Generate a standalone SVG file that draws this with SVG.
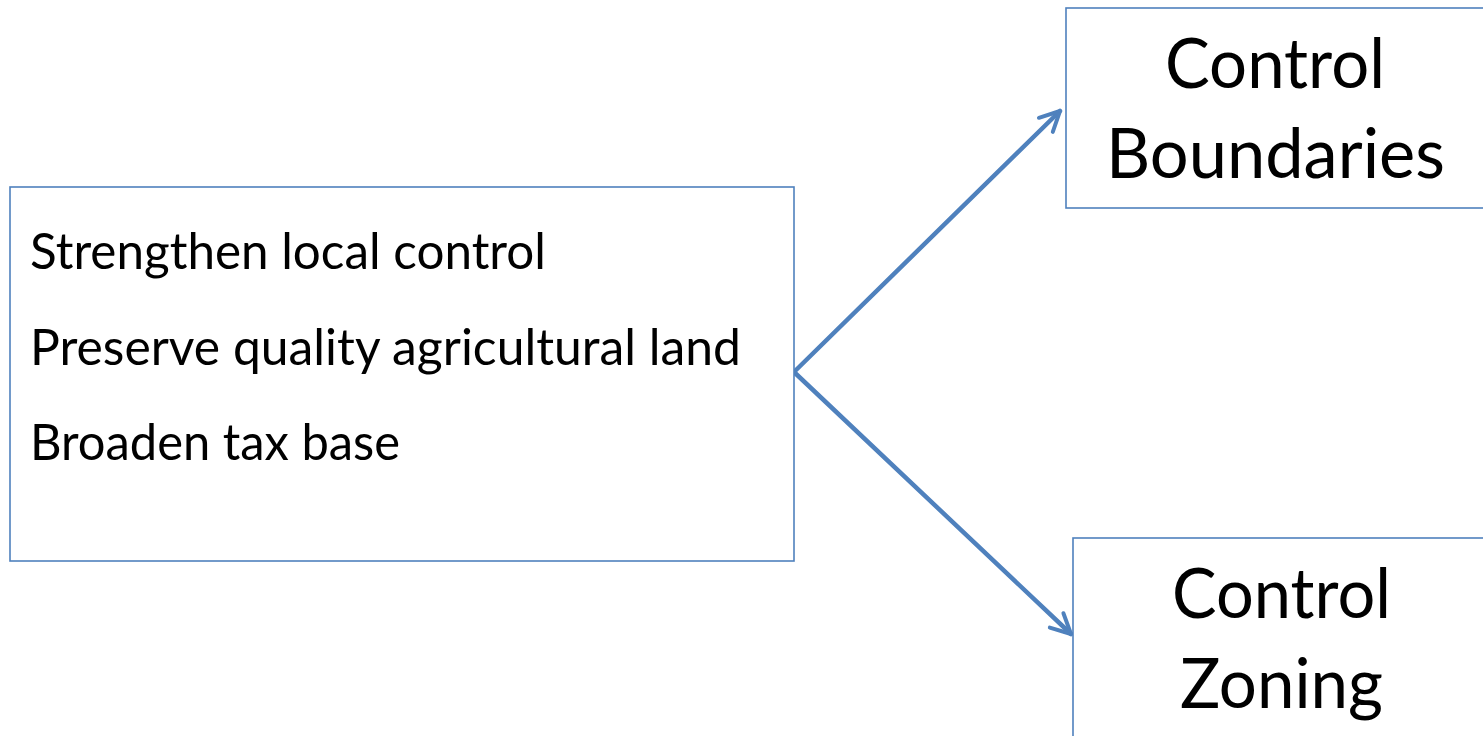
<svg xmlns="http://www.w3.org/2000/svg" width="1483" height="736" viewBox="0 0 1483 736">
<style>
.box{fill:#fff;stroke:#4F81BD;stroke-width:1.6}
.t{font-family:Lato,"Open Sans","Liberation Sans",sans-serif;fill:#000}
.s{font-size:50px}
.b{font-size:70px;text-anchor:middle}
.c{fill:none;stroke:#4F81BD;stroke-width:4.5;stroke-linecap:round}
</style>
<defs>
<marker id="ah" viewBox="0 0 10 10" refX="9" refY="5" markerWidth="5.5" markerHeight="5.5" orient="auto" markerUnits="strokeWidth">
<path d="M1,1 L9,5 L1,9" fill="none" stroke="#4F81BD" stroke-width="1.6" stroke-linecap="round" stroke-linejoin="round"/>
</marker>
</defs>
<rect width="1483" height="736" fill="#fff"/>
<g id="connectors">
<line class="c" x1="794" y1="372" x2="1060" y2="111" marker-end="url(#ah)"/>
<line class="c" x1="794" y1="372" x2="1071" y2="634" marker-end="url(#ah)"/>
</g>
<g id="goals">
<rect class="box" x="10" y="187" width="784" height="374"/>
<text class="t s" x="30" y="269" textLength="516" lengthAdjust="spacingAndGlyphs">Strengthen local control</text>
<text class="t s" x="30" y="365" textLength="711" lengthAdjust="spacingAndGlyphs">Preserve quality agricultural land</text>
<text class="t s" x="30" y="460" textLength="370" lengthAdjust="spacingAndGlyphs">Broaden tax base</text>
</g>
<g id="boundaries">
<rect class="box" x="1066" y="8" width="420" height="200"/>
<text class="t b" x="1275" y="88" textLength="220" lengthAdjust="spacingAndGlyphs">Control</text>
<text class="t b" x="1275.5" y="178" textLength="339" lengthAdjust="spacingAndGlyphs">Boundaries</text>
</g>
<g id="zoning">
<rect class="box" x="1073" y="538" width="420" height="210"/>
<text class="t b" x="1281.5" y="618" textLength="219" lengthAdjust="spacingAndGlyphs">Control</text>
<text class="t b" x="1281.5" y="708" textLength="203" lengthAdjust="spacingAndGlyphs">Zoning</text>
</g>
</svg>
